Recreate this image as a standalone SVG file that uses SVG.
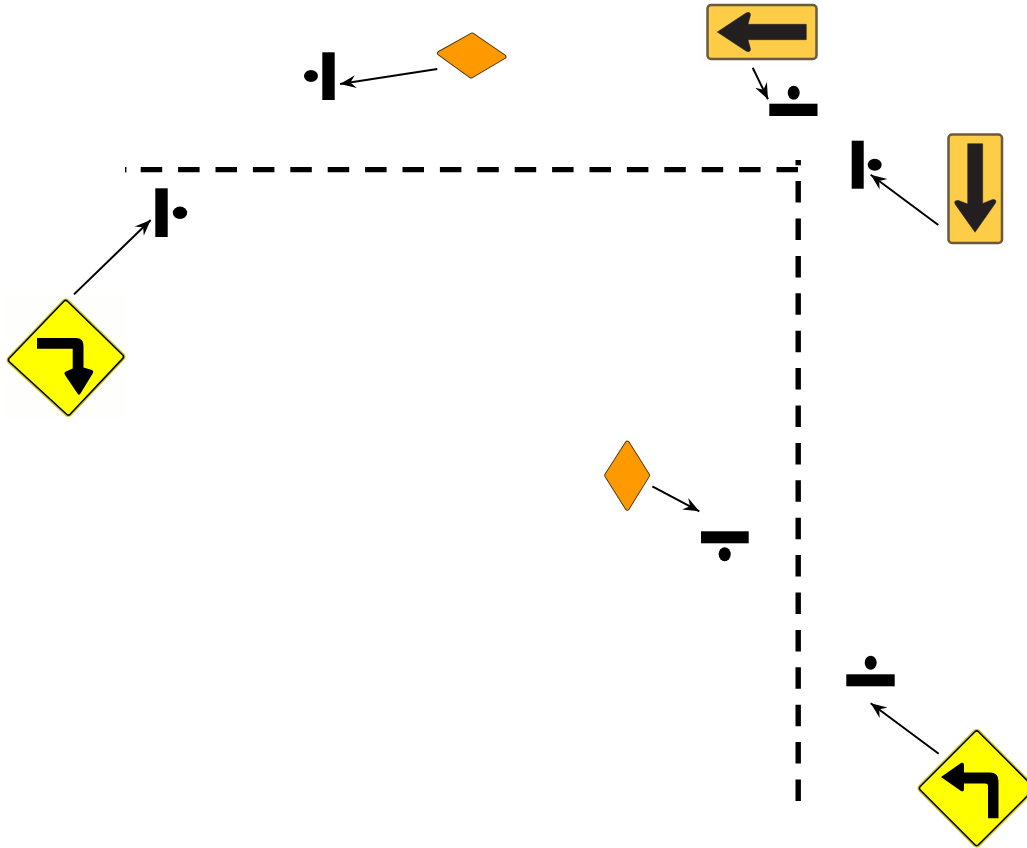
<svg xmlns="http://www.w3.org/2000/svg" width="1027" height="848" viewBox="0 0 1027 848">
<style>
.dash{fill:none;stroke:#000;stroke-width:5.4;stroke-dasharray:21.5 15.9}
.bar,.dot{fill:#000}
.conn{fill:none;stroke:#000;stroke-width:2;marker-end:url(#head)}
.oedge{fill:none;stroke:#4a3510;stroke-width:5;stroke-linejoin:round}
.oface{fill:#ff9900;stroke:#ff9900;stroke-width:3.2;stroke-linejoin:round}
.wpatch{fill:#fefefc}
.yedge{fill:none;stroke:#c9c91e;stroke-width:9;stroke-linejoin:round}
.yline{fill:none;stroke:#000;stroke-width:6.4;stroke-linejoin:round}
.yface{fill:#ffff00;stroke:#ffff00;stroke-width:3.4;stroke-linejoin:round}
.amber{fill:#fdcd48;stroke:#6a5a40;stroke-width:2.5}
.glyph{fill:#000}
.dark{fill:#231f20;stroke:#231f20;stroke-width:.5;stroke-linejoin:round}
</style>
<defs>
<marker id="head" markerUnits="userSpaceOnUse" markerWidth="18" markerHeight="16" refX="16" refY="7" orient="auto" viewBox="0 0 18 14">
<path d="M16 7 L0 .5 L5.5 7 L0 13.5 Z" fill="#000"/>
</marker>
</defs>
<rect width="1027" height="848" fill="#fff"/>
<g id="road">
<path class="dash" d="M798 169.6 H140"/>
<rect x="125" y="167" width="1.4" height="5.4" fill="#000"/>
<path class="dash" d="M798.2 801 V160"/>
</g>
<g id="connectors">
<path class="conn" d="M74 294.4 L150.7 220"/>
<path class="conn" d="M437.3 69 L340 84"/>
<path class="conn" d="M752.7 67.7 L768 99.3"/>
<path class="conn" d="M938.3 225 L870.7 174.7"/>
<path class="conn" d="M652.3 486.3 L699.3 511.3"/>
<path class="conn" d="M938.7 753.7 L870.7 703.3"/>
</g>
<g id="signal-west">
<rect class="bar" x="155.3" y="188.3" width="12.4" height="48.7"/>
<ellipse class="dot" cx="180" cy="212.8" rx="7.2" ry="6.2"/>
</g>
<g id="signal-north">
<rect class="bar" x="322.3" y="52.3" width="12.4" height="47.7"/>
<ellipse class="dot" cx="311" cy="76" rx="7" ry="6"/>
</g>
<g id="signal-northeast">
<rect class="bar" x="769.3" y="103.7" width="48.2" height="12.3"/>
<ellipse class="dot" cx="793.7" cy="92.7" rx="6" ry="7"/>
</g>
<g id="signal-east">
<rect class="bar" x="851.7" y="140.7" width="12" height="48"/>
<ellipse class="dot" cx="874.7" cy="164.7" rx="7" ry="6"/>
</g>
<g id="signal-southeast">
<rect class="bar" x="846.3" y="674.3" width="48.4" height="12"/>
<ellipse class="dot" cx="870.7" cy="662.7" rx="6" ry="7"/>
</g>
<g id="signal-middle">
<rect class="bar" x="701" y="531.3" width="47.7" height="12"/>
<ellipse class="dot" cx="724.7" cy="554.3" rx="6" ry="7"/>
</g>
<g id="sign-orange-north">
<polygon class="oedge" points="472.3,35 504,56.7 471,76 439.5,53.3"/>
<polygon class="oface" points="472.3,35 504,56.7 471,76 439.5,53.3"/>
</g>
<g id="sign-orange-middle">
<polygon class="oedge" points="627.3,443.2 647.6,475.3 627.3,508.2 606.7,475.3"/>
<polygon class="oface" points="627.3,443.2 647.6,475.3 627.3,508.2 606.7,475.3"/>
</g>
<g id="sign-turn-right">
<rect class="wpatch" x="5" y="297" width="121" height="121"/>
<polygon class="yedge" points="65.7,303 121,356.7 68.3,412.5 11,360"/>
<polygon class="yline" points="65.7,303 121,356.7 68.3,412.5 11,360"/>
<polygon class="yface" points="65.7,303 121,356.7 68.3,412.5 11,360"/>
<path class="glyph" d="M37 338 H76 Q83.5 338 83.5 345.5 V367.5 L92 370 Q94 371 93 373 L80.5 393.5 Q79 396 77.5 393.5 L65 375 Q63.5 372.5 66 371.5 L72.7 368.5 V348.7 H37 Z"/>
</g>
<g id="sign-arrow-left">
<rect class="wpatch" x="700" y="2" width="120" height="64"/>
<rect class="amber" x="707.5" y="5" width="109" height="54" rx="3.5"/>
<path class="dark" d="M717.3 32 L746 13 Q750.5 11 750.5 15 L748 24.3 H806.3 V39.7 H748 L750.5 49 Q750.5 53 746 51 Z"/>
</g>
<g id="sign-arrow-down">
<rect class="wpatch" x="945" y="130" width="60" height="119"/>
<rect class="amber" x="948.5" y="134.5" width="53.5" height="108.5" rx="3.5"/>
<path class="dark" d="M967.7 143.7 H982.7 V203.5 L992 199.7 Q997 199 995.5 203 L975 232.3 L955 204 Q953.5 200 958.5 200.5 L967.7 204 Z"/>
</g>
<g id="sign-turn-left">
<polygon class="yedge" points="976.7,733.5 1031.5,788.3 976.7,843 922,788.3"/>
<polygon class="yline" points="976.7,733.5 1031.5,788.3 976.7,843 922,788.3"/>
<polygon class="yface" points="976.7,733.5 1031.5,788.3 976.7,843 922,788.3"/>
<path class="glyph" d="M941 777 L961 763 Q964 762 964 765 V772.5 H990 Q998.5 772.5 998.5 781 V818.3 H988 V786 Q988 783.5 985.5 783.5 H964 V789 Q964 792.5 961 791 Z"/>
</g>
</svg>
